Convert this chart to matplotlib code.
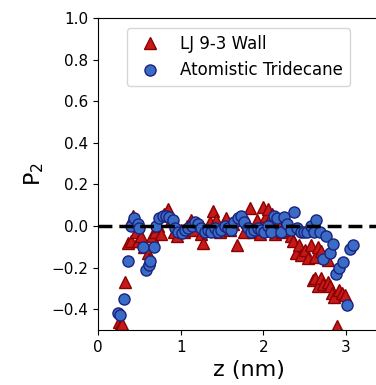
import matplotlib
matplotlib.use('Agg')
import matplotlib.pyplot as plt

# LJ 9-3 wall model
z_wall = [0.25, 0.27, 0.29, 0.33, 0.36, 0.40, 0.42, 0.46, 0.48, 0.52,
          0.56, 0.60, 0.62, 0.65, 0.69, 0.73, 0.76, 0.80, 0.84, 0.88,
          0.92, 0.96, 1.00, 1.04, 1.08, 1.12, 1.16, 1.20, 1.24, 1.27,
          1.31, 1.35, 1.39, 1.43, 1.47, 1.51, 1.55, 1.59, 1.63, 1.68,
          1.72, 1.76, 1.80, 1.84, 1.88, 1.92, 1.96, 1.99, 2.03, 2.06,
          2.10, 2.14, 2.18, 2.22, 2.26, 2.30, 2.33,
          2.36, 2.40, 2.43, 2.46, 2.50, 2.54, 2.58, 2.62, 2.66, 2.70, 2.74, 2.78,
          2.60, 2.63, 2.66, 2.70, 2.72, 2.78, 2.81, 2.83, 2.86, 2.89, 2.91, 2.95, 2.99]
p2_wall = [-0.46, -0.48, -0.47, -0.27, -0.08, -0.07, 0.05, -0.03, -0.07, -0.05,
           -0.10, -0.13, -0.16, -0.05, -0.03, 0.00, -0.04, 0.06, 0.08, 0.03,
           -0.03, -0.05, -0.02, -0.03, 0.00, 0.03, -0.02, 0.01, -0.04, -0.08,
           -0.02, 0.02, 0.07, 0.03, -0.03, 0.00, 0.04, -0.02, 0.01, -0.09,
           0.03, -0.03, 0.02, 0.085, -0.03, 0.03, -0.04, 0.09, 0.05, 0.08,
           0.06, -0.04, 0.02, -0.03, 0.01, -0.02, -0.05,
           -0.07, -0.13, -0.09, -0.14, -0.115, -0.155, -0.09, -0.15, -0.10, -0.12, -0.15, -0.165,
           -0.26, -0.25, -0.29, -0.25, -0.28, -0.27, -0.29, -0.32, -0.34, -0.48, -0.31, -0.32, -0.33]

# atomistic tridecane
z_atom = [0.24, 0.27, 0.31, 0.36, 0.40, 0.44, 0.48, 0.50, 0.54, 0.58,
          0.61, 0.63, 0.67, 0.70, 0.74, 0.78, 0.82, 0.86, 0.90, 0.93,
          0.97, 1.01, 1.05, 1.09, 1.13, 1.17, 1.21, 1.25, 1.29, 1.33,
          1.37, 1.41, 1.45, 1.49, 1.53, 1.57, 1.61, 1.65, 1.69, 1.73,
          1.77, 1.81, 1.85, 1.89, 1.93, 1.97, 2.01, 2.05, 2.09, 2.13,
          2.17, 2.21, 2.25, 2.29, 2.33, 2.37, 2.41, 2.45, 2.49, 2.53,
          2.57, 2.61, 2.64, 2.68, 2.72, 2.76, 2.80, 2.84, 2.88, 2.92,
          2.96, 3.01, 3.05, 3.09]
p2_atom = [-0.42, -0.43, -0.35, -0.17, 0.00, 0.04, 0.01, -0.01, -0.10, -0.21,
           -0.19, -0.17, -0.10, 0.00, 0.04, 0.05, 0.05, 0.045, 0.03, -0.01,
           -0.03, -0.035, -0.02, -0.01, 0.00, 0.02, 0.01, -0.01, -0.03, -0.02,
           -0.03, -0.01, -0.03, -0.02, 0.00, -0.01, -0.02, 0.02, 0.04, 0.05,
           0.02, -0.01, -0.03, -0.02, -0.01, -0.02, -0.03, 0.00, -0.03, 0.05,
           0.04, -0.03, 0.045, 0.01, -0.02, 0.065, -0.01, -0.03, -0.03, -0.03,
           0.00, -0.03, 0.03, -0.03, -0.16, -0.05, -0.13, -0.085, -0.23, -0.20,
           -0.175, -0.38, -0.11, -0.09]

fig = plt.figure(figsize=(3.76, 3.85), dpi=100)
ax = fig.add_axes([0.261, 0.143, 0.80, 0.81])

ax.axhline(0, color='k', linestyle=(0, (4, 2)), linewidth=2.5, zorder=4)
ax.plot(z_wall, p2_wall, '^', color='#c41a1a', markeredgecolor='#8b0000',
        markeredgewidth=1, markersize=8, label='LJ 9-3 Wall', zorder=2)
ax.plot(z_atom, p2_atom, 'o', color='#3a6cc6', markeredgecolor='#1a237e',
        markeredgewidth=1, markersize=8, label='Atomistic Tridecane', zorder=3)

ax.set_xlim(0, 3.64)
ax.set_ylim(-0.5, 1.0)
ax.set_xticks([0, 1, 2, 3])
ax.set_yticks([-0.4, -0.2, 0.0, 0.2, 0.4, 0.6, 0.8, 1.0])
ax.tick_params(labelsize=11)
ax.set_xlabel('z (nm)', fontsize=16)
ax.set_ylabel('P$_2$', fontsize=16)
ax.legend(loc='upper left', bbox_to_anchor=(0.096, 0.967), borderaxespad=0,
          fontsize=12)

fig.savefig('out.png', dpi=100)
